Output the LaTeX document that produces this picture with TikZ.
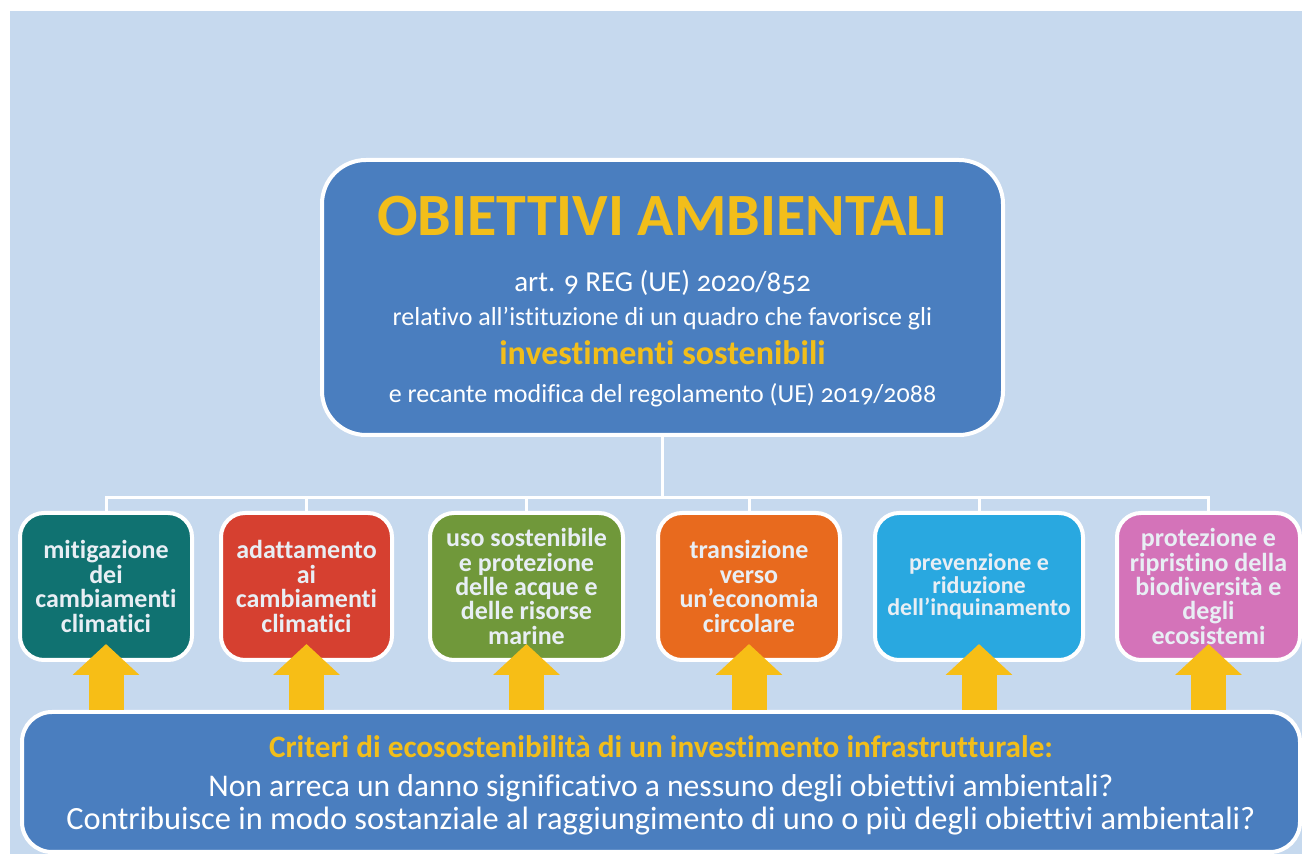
\documentclass[tikz,border=0pt]{standalone}
\usepackage{fontspec}
\setmainfont{Carlito}[Numbers=OldStyle, Ligatures=NoCommon]
\usetikzlibrary{arrows.meta}

\definecolor{bgblue}{HTML}{C6D9EE}
\definecolor{boxblue}{HTML}{4A7EBF}
\definecolor{titlegold}{HTML}{F2BE1A}
\definecolor{arrowgold}{HTML}{F7BE16}
\definecolor{goaltext}{HTML}{E8EEF4}
\definecolor{climteal}{HTML}{107271}
\definecolor{adaptred}{HTML}{D64030}
\definecolor{watergreen}{HTML}{70983A}
\definecolor{circorange}{HTML}{E86A1E}
\definecolor{pollcyan}{HTML}{29A8E0}
\definecolor{biopink}{HTML}{D473B9}

\begin{document}
\begin{tikzpicture}[x=0.5pt, y=-0.5pt,
    mainbox/.style ={rectangle, draw=white, line width=2pt, fill=boxblue, inner sep=0pt},
    goalbox/.style ={rectangle, rounded corners=12pt, draw=white, line width=2pt,
                     minimum height=73.5pt, inner sep=0pt, align=center, text=goaltext,
                     font=\bfseries\fontsize{13}{12.2}\selectfont},
    link/.style ={draw=white, line width=1.5pt},
    bigarrow/.style ={arrowgold, line width=17.5pt,
                      -{Triangle[length=15.5pt, width=32.5pt]}, shorten >=-9pt}]
   \useasboundingbox (0,0) rectangle (1302,854);
   % background
   \fill[bgblue] (10,11) rectangle (1302,854);

   % main objective box
   \node[mainbox, rounded corners=22pt, minimum width=340.5pt, minimum height=137.5pt]
        (obiettivi) at (662.5,297.5) {};
   \node[anchor=base, text=titlegold, font=\bfseries\fontsize{30}{30}\selectfont]
        (titolo) at (662.5,236) {OBIETTIVI AMBIENTALI};
   \node[anchor=base, text=white, font=\fontsize{14.5}{14.5}\selectfont]
        (articolo) at (662.5,292) {art. 9 REG (UE) 2020/852};
   \node[anchor=base, text=white, font=\fontsize{13}{13}\selectfont]
        (relativo) at (662.5,326) {relativo all’istituzione di un quadro che favorisce gli};
   \node[anchor=base, text=titlegold, font=\bfseries\fontsize{17}{17}\selectfont]
        (investimenti) at (662.5,365) {investimenti sostenibili};
   \node[anchor=base, text=white, font=\fontsize{13}{13}\selectfont]
        (recante) at (662.5,403) {e recante modifica del regolamento (UE) 2019/2088};

   % the six objectives
   \node[goalbox, fill=climteal,   minimum width=86pt]   (mitigazione) at (106,586.5)
        {mitigazione\\dei\\cambiamenti\\climatici};
   \node[goalbox, fill=adaptred,   minimum width=85.5pt] (adattamento) at (306.5,586.5)
        {adattamento\\ai\\cambiamenti\\climatici};
   \node[goalbox, fill=watergreen, minimum width=96.5pt] (acque) at (526.5,586.5)
        {uso sostenibile\\e protezione\\delle acque e\\delle risorse\\marine};
   \node[goalbox, fill=circorange, minimum width=91pt]   (circolare) at (749,586.5)
        {transizione\\verso\\un’economia\\circolare};
   \node[goalbox, fill=pollcyan,   minimum width=104pt,
         font=\bfseries\fontsize{12}{11.2}\selectfont]   (inquinamento) at (979,586.5)
        {prevenzione e\\riduzione\\dell’inquinamento};
   \node[goalbox, fill=biopink,    minimum width=91.5pt] (biodiversita) at (1208.5,586.5)
        {protezione e\\ripristino della\\biodiversità e\\degli\\ecosistemi};

   % tree lines
   \coordinate (hub) at (662.5,498);
   \draw[link] (obiettivi) -- (hub);
   \draw[link] (hub) -| (mitigazione);
   \draw[link] (hub) -| (adattamento);
   \draw[link] (hub) -| (acque);
   \draw[link] (hub) -| (circolare);
   \draw[link] (hub) -| (inquinamento);
   \draw[link] (hub) -| (biodiversita);

   % criteria box
   \node[mainbox, rounded corners=15pt, minimum width=639pt, minimum height=70pt]
        (criteri) at (661,782) {};
   \node[anchor=base, text=titlegold, font=\bfseries\fontsize{15.6}{15.6}\selectfont]
        (criteritit) at (661,758) {Criteri di ecosostenibilità di un investimento infrastrutturale:};
   \node[anchor=base, text=white, font=\fontsize{15.8}{15.8}\selectfont]
        (danno) at (661,797) {Non arreca un danno significativo a nessuno degli obiettivi ambientali?};
   \node[anchor=base, text=white, font=\fontsize{16.2}{16.2}\selectfont]
        (contributo) at (661,830) {Contribuisce in modo sostanziale al raggiungimento di uno o più degli obiettivi ambientali?};

   % arrows from the criteria to each objective
   \draw[bigarrow] (criteri.north -| mitigazione.south) -- (mitigazione.south);
   \draw[bigarrow] (criteri.north -| adattamento.south) -- (adattamento.south);
   \draw[bigarrow] (criteri.north -| acque.south) -- (acque.south);
   \draw[bigarrow] (criteri.north -| circolare.south) -- (circolare.south);
   \draw[bigarrow] (criteri.north -| inquinamento.south) -- (inquinamento.south);
   \draw[bigarrow] (criteri.north -| biodiversita.south) -- (biodiversita.south);
\end{tikzpicture}
\end{document}
